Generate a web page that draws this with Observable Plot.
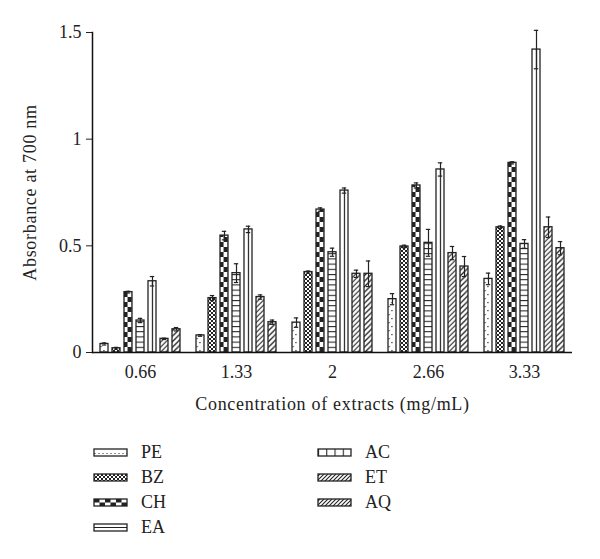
<!DOCTYPE html>
<html><head><meta charset="utf-8">
<script src="https://cdn.jsdelivr.net/npm/d3@7"></script>
<script src="https://cdn.jsdelivr.net/npm/@observablehq/plot@0.6"></script>
<style>
body{margin:0;background:#fff;font-family:"Liberation Serif",serif;}
#chart{width:600px;height:420px;}
#legend{position:relative;width:600px;height:139px;font-size:18px;color:#222;}
.item{position:absolute;display:flex;align-items:center;height:20px;}
.item svg{margin-right:13px;}
</style></head><body>
<svg id="defs" width="0" height="0" style="position:absolute"><defs></defs></svg>
<div id="chart"></div>
<div id="legend"></div>
<script>
// ---- data ----
const concentrations = ["0.66", "1.33", "2", "2.66", "3.33"];
const extracts = ["PE", "BZ", "CH", "EA", "AC", "ET", "AQ"];
const PE = [0.04, 0.08, 0.14, 0.25, 0.345];
const PE_sd = [0.005, 0.004, 0.022, 0.026, 0.027];
const BZ = [0.02, 0.255, 0.377, 0.497, 0.587];
const BZ_sd = [0.004, 0.012, 0.005, 0.006, 0.006];
const CH = [0.283, 0.548, 0.67, 0.783, 0.889];
const CH_sd = [0.004, 0.02, 0.008, 0.012, 0.005];
const EA = [0.15, 0.372, 0.47, 0.514, 0.509];
const EA_sd = [0.01, 0.044, 0.019, 0.063, 0.02];
const AC = [0.334, 0.577, 0.759, 0.858, 1.42];
const AC_sd = [0.022, 0.015, 0.012, 0.031, 0.09];
const ET = [0.064, 0.26, 0.369, 0.466, 0.587];
const ET_sd = [0.003, 0.01, 0.017, 0.031, 0.048];
const AQ = [0.109, 0.142, 0.369, 0.403, 0.489];
const AQ_sd = [0.008, 0.01, 0.06, 0.047, 0.031];
const yTicks = [0, 0.5, 1, 1.5];
const yTickLabels = ["0", "0.5", "1", "1.5"];
const yTitle = "Absorbance at 700 nm";
const xTitle = "Concentration of extracts (mg/mL)";
const legendColumns = [["PE", "BZ", "CH", "EA"], ["AC", "ET", "AQ"]];

// ---- table built from arrays ----
const values = {PE, BZ, CH, EA, AC, ET, AQ};
const sds = {PE: PE_sd, BZ: BZ_sd, CH: CH_sd, EA: EA_sd, AC: AC_sd, ET: ET_sd, AQ: AQ_sd};
const rows = [];
concentrations.forEach((c, i) => extracts.forEach(s => rows.push({conc: c, extract: s, value: values[s][i], sd: sds[s][i]})));

const ink = "#222";
const plot = Plot.plot({
  width: 600, height: 420,
  marginTop: 32, marginBottom: 68, marginLeft: 92, marginRight: 28,
  style: {fontFamily: "'Liberation Serif', serif", fontSize: "18px", color: ink, background: "white"},
  fx: {domain: concentrations, paddingInner: 0, paddingOuter: 0, tickSize: 0, tickPadding: 13,
       label: xTitle, labelAnchor: "center", labelOffset: 57},
  x: {domain: extracts, paddingInner: 0.33, paddingOuter: 0.53, axis: null},
  y: {domain: [0, 1.5], ticks: yTicks, tickFormat: d => yTickLabels[yTicks.indexOf(d)], tickSize: 6, tickPadding: 5,
      label: yTitle, labelAnchor: "center", labelOffset: 69, labelArrow: "none"},
  color: {type: "identity"},
  marks: [
    Plot.barY(rows, {fx: "conc", x: "extract", y: "value", fill: d => `url(#bar-${d.extract})`, stroke: ink, strokeWidth: 1.3}),
    Plot.ruleX(rows, {fx: "conc", x: "extract", y1: d => d.value - d.sd, y2: d => d.value + d.sd, stroke: ink, strokeWidth: 1.2}),
    Plot.tickY(rows, {fx: "conc", x: "extract", y: d => d.value + d.sd, insetLeft: 1.8, insetRight: 1.8, stroke: ink, strokeWidth: 1.2}),
    Plot.tickY(rows, {fx: "conc", x: "extract", y: d => d.value - d.sd, insetLeft: 1.8, insetRight: 1.8, stroke: ink, strokeWidth: 1.2}),
    Plot.ruleY([0], {stroke: "#111", strokeWidth: 1.5}),
    Plot.frame({anchor: "left", facetAnchor: "left", stroke: "#111", strokeWidth: 1.5})
  ]
});
document.getElementById("chart").appendChild(plot);
plot.querySelectorAll('g[aria-label$="axis label"] text').forEach(t => t.style.letterSpacing = "0.7px");

// ---- patterns aligned to the bars through the scales ----
const xs = plot.scale("x"), ys = plot.scale("y");
const band = d3.scaleBand().domain(xs.domain).range(xs.range)
  .paddingInner(xs.paddingInner).paddingOuter(xs.paddingOuter).align(xs.align ?? 0.5);
const bw = band.bandwidth();
const y0 = ys.range[0];
const defs = d3.select("#defs defs");
function pattern(id, w, h, x, y) {
  const p = defs.append("pattern").attr("id", id).attr("patternUnits", "userSpaceOnUse")
    .attr("width", w).attr("height", h).attr("x", x).attr("y", y);
  p.append("rect").attr("width", w).attr("height", h).attr("fill", "white");
  return p;
}
function checker(p, cw, ch) {
  p.append("rect").attr("width", cw).attr("height", ch).attr("fill", ink);
  p.append("rect").attr("x", cw).attr("y", ch).attr("width", cw).attr("height", ch).attr("fill", ink);
}
function hatch(p, s, sw) {
  p.append("path").attr("d", `M0,${s} L${s},0 M${-s},${s} L${s},${-s}M0,${2*s} L${2*s},0`)
    .attr("stroke", ink).attr("stroke-width", sw).attr("fill", "none");
}
// bar patterns
{
  let p = pattern("bar-PE", bw, 8, band("PE"), y0);
  p.append("rect").attr("x", bw * 0.3 - 0.6).attr("y", 2).attr("width", 1.2).attr("height", 1.2).attr("fill", ink);
  p.append("rect").attr("x", bw * 0.65 - 0.6).attr("y", 6).attr("width", 1.2).attr("height", 1.2).attr("fill", ink);
  p = pattern("bar-BZ", 4, 4, band("BZ"), y0); checker(p, 2, 2);
  p = pattern("bar-CH", bw, 10, band("CH"), y0); checker(p, bw / 2, 5);
  p = pattern("bar-EA", bw, 5.2, band("EA"), y0);
  p.append("line").attr("x1", 0).attr("x2", bw).attr("y1", 0.5).attr("y2", 0.5).attr("stroke", ink).attr("stroke-width", 1.1);
  p = pattern("bar-AC", bw, 10, band("AC"), y0);
  p.append("line").attr("x1", bw / 2).attr("x2", bw / 2).attr("y1", 0).attr("y2", 10).attr("stroke", ink).attr("stroke-width", 1.2);
  p = pattern("bar-ET", 5, 5, band("ET"), y0); hatch(p, 5, 1.1);
  p = pattern("bar-AQ", 5.5, 5.5, band("AQ"), y0); hatch(p, 5.5, 1.3);
}
// legend patterns (horizontal swatches)
{
  let p = pattern("leg-PE", 4, 7, 0, 1);
  p.append("rect").attr("x", 1.5).attr("y", 4).attr("width", 1).attr("height", 1).attr("fill", ink);
  p = pattern("leg-BZ", 4, 4, 0, 1); checker(p, 2, 2);
  p = pattern("leg-CH", 11, 7, 1, 1); checker(p, 5.5, 3.5);
  p = pattern("leg-EA", 40, 7, 0, 1);
  p.append("line").attr("x1", 0).attr("x2", 40).attr("y1", 3.5).attr("y2", 3.5).attr("stroke", ink).attr("stroke-width", 1.1);
  p = pattern("leg-AC", 8.25, 7, 1, 1);
  p.append("line").attr("x1", 0.5).attr("x2", 0.5).attr("y1", 0).attr("y2", 7).attr("stroke", ink).attr("stroke-width", 1.1);
  p = pattern("leg-ET", 4, 4, 0, 0); hatch(p, 4, 1.1);
  p = pattern("leg-AQ", 4, 4, 0, 0); hatch(p, 4, 1.1);
}

// ---- legend ----
const legend = d3.select("#legend");
const colX = [93, 317];
legendColumns.forEach((col, ci) => col.forEach((s, ri) => {
  const item = legend.append("div").attr("class", "item")
    .style("left", colX[ci] + "px").style("top", (22 + ri * 25) + "px");
  const sw = item.append("svg").attr("width", 35).attr("height", 9);
  sw.append("rect").attr("x", 1).attr("y", 1).attr("width", 33).attr("height", 7)
    .attr("fill", `url(#leg-${s})`).attr("stroke", ink).attr("stroke-width", 1.3);
  item.append("span").text(s);
}));
</script>
</body></html>
